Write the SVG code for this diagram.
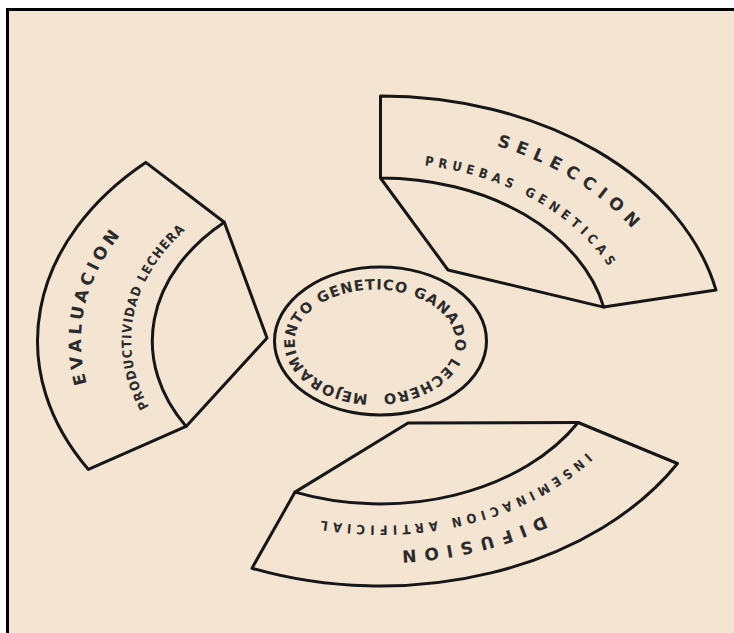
<svg xmlns="http://www.w3.org/2000/svg" width="734" height="633" viewBox="0 0 734 633">
  <style>
    .shape { fill: none; stroke: #161616; stroke-width: 3; stroke-linejoin: round; stroke-linecap: round; }
    .big { font-family: "DejaVu Sans", "Liberation Sans", sans-serif; font-weight: bold; font-size: 17px; fill: #2b2b2b; }
    .small { font-family: "DejaVu Sans Condensed", "DejaVu Sans", sans-serif; font-stretch: condensed; font-weight: bold; font-size: 13px; fill: #2b2b2b; }
    .ring { font-family: "DejaVu Sans", "Liberation Sans", sans-serif; font-weight: bold; font-size: 14.5px; fill: #2b2b2b; }
  </style>
  <defs>
    <path id="p-sel" d="M496.5,145.8 A296.8,212 0 0 1 632.2,228.7"/>
    <path id="p-prue" d="M424.6,165.4 A250,178.3 0 0 1 608.6,266.9"/>
    <path id="p-eval" d="M86.9,383.7 A299.6,214 0 0 1 120.3,235"/>
    <path id="p-prod" d="M149,407 A249.2,178 0 0 1 186,229.5"/>
    <path id="p-dif" d="M543.6,515.7 A294,210 0 0 1 401.5,550.5"/>
    <path id="p-ins" d="M586.6,452.6 A258.3,184.5 0 0 1 321,520.5"/>
    <path id="p-circ" d="M368,394.3 A81.5,52.5 0 0 1 382,289.7 A81.5,52.5 0 0 1 368,394.3"/>
  </defs>

  <rect x="0" y="0" width="734" height="633" fill="#ffffff"/>
  <rect x="9" y="11" width="725" height="622" fill="#f4e4d2"/>
  <line x1="7.5" y1="9.5" x2="7.5" y2="633" stroke="#000" stroke-width="3"/>
  <line x1="6" y1="9.5" x2="734" y2="9.5" stroke="#000" stroke-width="3"/>

  <g id="connectors"></g>

  <g id="node-seleccion">
    <path class="shape" d="M380.5,96 A343,245 0 0 1 716,290.1 L603.7,307.1 A228.2,163 0 0 0 380.5,178 Z"/>
    <path class="shape" d="M380.5,178 L448,270 L603.7,307.1"/>
    <text class="big"><textPath href="#p-sel" textLength="161" lengthAdjust="spacing">SELECCION</textPath></text>
    <text class="small"><textPath href="#p-prue" textLength="216" lengthAdjust="spacing">PRUEBAS GENETICAS</textPath></text>
  </g>

  <g id="node-evaluacion">
    <path class="shape" d="M88.4,469.4 A343,245 0 0 1 145.7,162.4 L224.3,222.2 A228.2,163 0 0 0 186.1,426.4 Z"/>
    <path class="shape" d="M224.3,222.2 L267,338 L186.1,426.4"/>
    <text class="big"><textPath href="#p-eval" textLength="158" lengthAdjust="spacing">EVALUACION</textPath></text>
    <text class="small"><textPath href="#p-prod" textLength="196" lengthAdjust="spacing">PRODUCTIVIDAD LECHERA</textPath></text>
  </g>

  <g id="node-difusion">
    <path class="shape" d="M677.5,463.5 A343,245 0 0 1 252,568.2 L295,492.1 A228.2,163 0 0 0 578.1,422.5 Z"/>
    <path class="shape" d="M578.1,422.5 L408,423 L295,492.1"/>
    <text class="big"><textPath href="#p-dif" textLength="147" lengthAdjust="spacing">DIFUSION</textPath></text>
    <text class="small"><textPath href="#p-ins" textLength="283" lengthAdjust="spacing">INSEMINACION ARTIFICIAL</textPath></text>
  </g>

  <g id="node-centro">
    <ellipse class="shape" cx="380.5" cy="341" rx="106" ry="74"/>
    <text class="ring"><textPath href="#p-circ" textLength="405" lengthAdjust="spacing">MEJORAMIENTO GENETICO GANADO LECHERO</textPath></text>
  </g>
</svg>
